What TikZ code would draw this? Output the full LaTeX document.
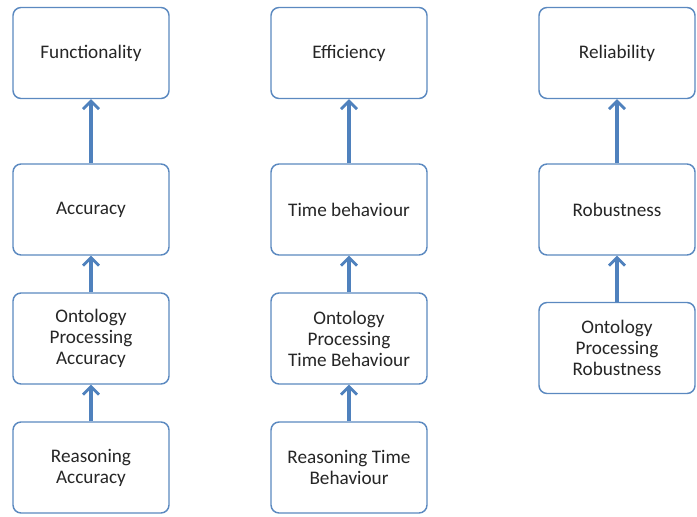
\documentclass[tikz,border=0pt]{standalone}
\usepackage{fontspec}
\setmainfont{Carlito}
\usetikzlibrary{arrows.meta}
\definecolor{boxline}{HTML}{5B89C0}
\definecolor{arrowblue}{HTML}{4F81BD}
\begin{document}
\begin{tikzpicture}[x=0.75pt,y=-0.75pt,
  qbox/.style={draw=boxline, line width=1.1pt, rounded corners=6pt, fill=white,
    minimum width=156*0.75pt, minimum height=91*0.75pt, align=center,
    inner sep=0pt, font=\fontsize{14.4}{15.75}\selectfont, text=black!85},
  uparrow/.style={draw=arrowblue, line width=2.3pt,
    -{Straight Barb[length=6pt, width=12pt, line width=2.1pt]}}]
  \useasboundingbox (0,0) rectangle (697,517);
  % first column
  \node[qbox] (func) at (91,53) {Functionality};
  \node[qbox] (acc) at (91,209.5) {Accuracy};
  \node[qbox] (opacc) at (91,338.5) {Ontology\\Processing\\Accuracy};
  \node[qbox] (racc) at (91,467.5) {Reasoning\\Accuracy};
  % second column
  \node[qbox] (eff) at (349,53) {Efficiency};
  \node[qbox] (time) at (349,209.5) {Time behaviour};
  \node[qbox] (optime) at (349,338.5) {Ontology\\Processing\\Time Behaviour};
  \node[qbox] (rtime) at (349,467.5) {Reasoning Time\\Behaviour};
  % third column
  \node[qbox] (rel) at (617,53) {Reliability};
  \node[qbox] (rob) at (617,209.5) {Robustness};
  \node[qbox] (oprob) at (617,348) {Ontology\\Processing\\Robustness};
  % upward links
  \draw[uparrow] (acc.north) -- (func.south);
  \draw[uparrow] (opacc.north) -- (acc.south);
  \draw[uparrow] (racc.north) -- (opacc.south);
  \draw[uparrow] (time.north) -- (eff.south);
  \draw[uparrow] (optime.north) -- (time.south);
  \draw[uparrow] (rtime.north) -- (optime.south);
  \draw[uparrow] (rob.north) -- (rel.south);
  \draw[uparrow] (oprob.north) -- (rob.south);
\end{tikzpicture}
\end{document}
